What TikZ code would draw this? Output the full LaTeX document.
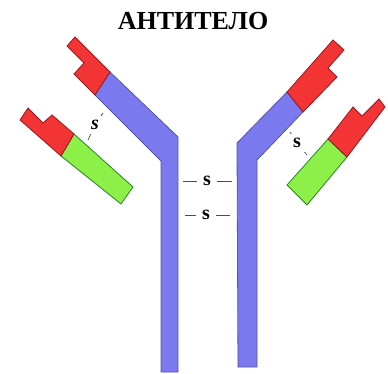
\documentclass[tikz,border=0pt]{standalone}
\usepackage{fontspec}
\setmainfont{Liberation Serif}

\definecolor{heavy}{RGB}{122,122,238}
\definecolor{heavyline}{RGB}{84,84,170}
\definecolor{var}{RGB}{242,52,52}
\definecolor{varline}{RGB}{150,24,32}
\definecolor{light}{RGB}{140,240,72}
\definecolor{lightline}{RGB}{40,130,40}

\begin{document}
\begin{tikzpicture}[x=1pt, y=-1pt]
      \useasboundingbox (0,0) rectangle (388,374);
      \tikzstyle{Part} = [line width=0.8pt, line join=miter]
      \tikzstyle{Heavy} = [Part, fill=heavy, draw=heavyline]
      \tikzstyle{Var} = [Part, fill=var, draw=varline]
      \tikzstyle{Light} = [Part, fill=light, draw=lightline]
      \tikzstyle{Bond} = [inner sep=6pt, font=\bfseries\fontsize{20}{20}\selectfont]
      \tikzstyle{BondLine} = [line width=0.7pt, black!70]
      \node[font=\bfseries\fontsize{26}{26}\selectfont] (title) at (193,21) {АНТИТЕЛО};
      % heavy chains
      \draw[Heavy] (95,95) -- (110,72) -- (178,137) -- (178,372) -- (161,372) -- (161,161) -- cycle;
      \draw[Heavy] (237,143) -- (287,92) -- (303,112) -- (257,160) -- (257,367) -- (238,367) -- cycle;
      \draw[Var] (75,37) -- (67,46) -- (84,63) -- (74,74) -- (95,95) -- (110,72) -- cycle;
      \draw[Var] (333,40) -- (344,50) -- (328,68) -- (337,77) -- (303,112) -- (287,92) -- cycle;
      % light chains
      \draw[Light] (74,134) -- (61,156) -- (121,204) -- (133,187) -- cycle;
      \draw[Var] (28,108) -- (20,120) -- (61,156) -- (74,134) -- (52,115) -- (43,123) -- cycle;
      \draw[Light] (328,139) -- (347,157) -- (307,205) -- (287,185) -- cycle;
      \draw[Var] (328,139) -- (353,107) -- (362,116) -- (379,99) -- (385,107) -- (347,157) -- cycle;
      % disulfide bonds
      \node[Bond, font=\bfseries\itshape\fontsize{20}{20}\selectfont, inner sep=4pt] (sl) at (95,125) {s};
      \node[Bond, inner sep=4pt] (sr) at (297,143) {s};
      \node[Bond] (s1) at (207,181) {s};
      \node[Bond] (s2) at (206,215) {s};
      \coordinate (sl1) at (88,140);  \coordinate (sl2) at (103,113);
      \coordinate (sr1) at (290,132); \coordinate (sr2) at (307,155);
      \coordinate (s1a) at (183,181); \coordinate (s1b) at (232,181);
      \coordinate (s2a) at (185,215); \coordinate (s2b) at (230,215);
      \draw[BondLine] (sl1) -- (sl) -- (sl2);
      \draw[BondLine] (sr1) -- (sr) -- (sr2);
      \draw[BondLine] (s1a) -- (s1) -- (s1b);
      \draw[BondLine] (s2a) -- (s2) -- (s2b);
\end{tikzpicture}
\end{document}
